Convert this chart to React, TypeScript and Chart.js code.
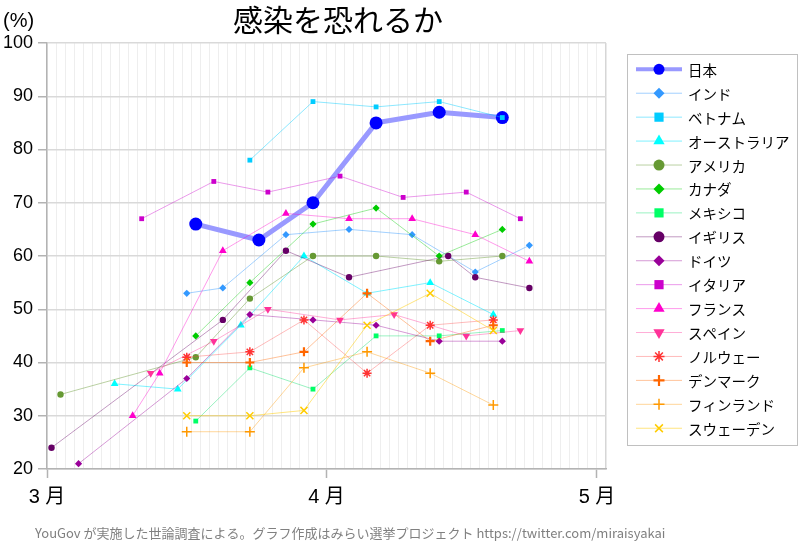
import React, { useEffect, useRef } from 'react';
import { Chart, registerables } from 'chart.js';
import { drawPoint } from 'chart.js/helpers';

Chart.register(...registerables);

const TITLE = '感染を恐れるか';
const Y_UNIT = '(%)';
const FOOTER = 'YouGov が実施した世論調査による。グラフ作成はみらい選挙プロジェクト https://twitter.com/miraisyakai';

// x values: days since March 1 (survey mid-points)
const X_MIN = 0;
const X_MAX = 62;
const monthTickDays = [0, 31, 61];
const monthTickLabels = ['3 月', '4 月', '5 月'];
const yTicks = [20, 30, 40, 50, 60, 70, 80, 90, 100];

const countryNames = [
  '日本', 'インド', 'ベトナム', 'オーストラリア', 'アメリカ', 'カナダ', 'メキシコ', 'イギリス',
  'ドイツ', 'イタリア', 'フランス', 'スペイン', 'ノルウェー', 'デンマーク', 'フィンランド', 'スウェーデン',
];

const japanDays = [16.5, 23.5, 29.5, 36.5, 43.5, 50.5];
const japanVals = [66, 63, 70, 85, 87, 86];
const indiaDays = [15.5, 19.5, 26.5, 33.5, 40.5, 47.5, 53.5];
const indiaVals = [53, 54, 64, 65, 64, 57, 62];
const vietnamDays = [22.5, 29.5, 36.5, 43.5, 50.5];
const vietnamVals = [78, 89, 88, 89, 86];
const australiaDays = [7.5, 14.5, 21.5, 28.5, 35.5, 42.5, 49.5];
const australiaVals = [36, 35, 47, 60, 53, 55, 49];
const americaDays = [1.5, 16.5, 22.5, 29.5, 36.5, 43.5, 50.5];
const americaVals = [34, 41, 52, 60, 60, 59, 60];
const canadaDays = [16.5, 22.5, 29.5, 36.5, 43.5, 50.5];
const canadaVals = [45, 55, 66, 69, 60, 65];
const mexicoDays = [16.5, 22.5, 29.5, 36.5, 43.5, 50.5];
const mexicoVals = [29, 39, 35, 45, 45, 46];
const ukDays = [0.5, 19.5, 26.5, 33.5, 44.5, 47.5, 53.5];
const ukVals = [24, 48, 61, 56, 60, 56, 54];
const germanyDays = [3.5, 15.5, 22.5, 29.5, 36.5, 43.5, 50.5];
const germanyVals = [21, 37, 49, 48, 47, 44, 44];
const italyDays = [10.5, 18.5, 24.5, 32.5, 39.5, 46.5, 52.5];
const italyVals = [67, 74, 72, 75, 71, 72, 67];
const franceDays = [9.5, 12.5, 19.5, 26.5, 33.5, 40.5, 47.5, 53.5];
const franceVals = [30, 38, 61, 68, 67, 67, 64, 59];
const spainDays = [11.5, 18.5, 24.5, 32.5, 38.5, 46.5, 52.5];
const spainVals = [38, 44, 50, 48, 49, 45, 46];
const norwayDays = [15.5, 22.5, 28.5, 35.5, 42.5, 49.5];
const norwayVals = [41, 42, 48, 38, 47, 48];
const denmarkDays = [15.5, 22.5, 28.5, 35.5, 42.5, 49.5];
const denmarkVals = [40, 40, 42, 53, 44, 47];
const finlandDays = [15.5, 22.5, 28.5, 35.5, 42.5, 49.5];
const finlandVals = [27, 27, 39, 42, 38, 32];
const swedenDays = [15.5, 22.5, 28.5, 35.5, 42.5, 49.5];
const swedenVals = [30, 30, 31, 47, 53, 46];

const seriesDays = [japanDays, indiaDays, vietnamDays, australiaDays, americaDays, canadaDays, mexicoDays, ukDays,
  germanyDays, italyDays, franceDays, spainDays, norwayDays, denmarkDays, finlandDays, swedenDays];
const seriesVals = [japanVals, indiaVals, vietnamVals, australiaVals, americaVals, canadaVals, mexicoVals, ukVals,
  germanyVals, italyVals, franceVals, spainVals, norwayVals, denmarkVals, finlandVals, swedenVals];

type Style = { marker: string; line: string; lw: number; ps: string; rot: number; r: number; bw: number };
const styles: Style[] = [
  { marker: '#0000ff', line: '#9999ff', lw: 5, ps: 'circle', rot: 0, r: 6.5, bw: 0 },
  { marker: '#3399ff', line: 'rgba(51,153,255,0.45)', lw: 1, ps: 'rectRot', rot: 0, r: 3.6, bw: 0 },
  { marker: '#00ccff', line: 'rgba(0,204,255,0.45)', lw: 1, ps: 'rect', rot: 0, r: 3.4, bw: 0 },
  { marker: '#00ffff', line: 'rgba(0,230,255,0.5)', lw: 1, ps: 'triangle', rot: 0, r: 4.5, bw: 0 },
  { marker: '#669933', line: 'rgba(102,153,51,0.45)', lw: 1, ps: 'circle', rot: 0, r: 3.2, bw: 0 },
  { marker: '#00cc00', line: 'rgba(0,204,0,0.4)', lw: 1, ps: 'rectRot', rot: 0, r: 3.6, bw: 0 },
  { marker: '#00ff66', line: 'rgba(0,220,100,0.4)', lw: 1, ps: 'rect', rot: 0, r: 3.4, bw: 0 },
  { marker: '#660066', line: 'rgba(102,0,102,0.4)', lw: 1, ps: 'circle', rot: 0, r: 3.2, bw: 0 },
  { marker: '#990099', line: 'rgba(153,0,153,0.4)', lw: 1, ps: 'rectRot', rot: 0, r: 3.6, bw: 0 },
  { marker: '#cc00cc', line: 'rgba(204,0,204,0.4)', lw: 1, ps: 'rect', rot: 0, r: 3.4, bw: 0 },
  { marker: '#ff00cc', line: 'rgba(255,0,204,0.4)', lw: 1, ps: 'triangle', rot: 0, r: 4.5, bw: 0 },
  { marker: '#ff3399', line: 'rgba(255,51,153,0.4)', lw: 1, ps: 'triangle', rot: 180, r: 4.5, bw: 0 },
  { marker: '#ff3333', line: 'rgba(255,60,60,0.35)', lw: 1, ps: 'star', rot: 0, r: 4.5, bw: 1.5 },
  { marker: '#ff6600', line: 'rgba(255,102,0,0.4)', lw: 1, ps: 'cross', rot: 0, r: 4.5, bw: 2.2 },
  { marker: '#ff9900', line: 'rgba(255,153,0,0.4)', lw: 1, ps: 'cross', rot: 0, r: 5, bw: 1.5 },
  { marker: '#ffcc00', line: 'rgba(255,204,0,0.5)', lw: 1, ps: 'crossRot', rot: 0, r: 5, bw: 1.5 },
];

const LATIN = "'Liberation Sans', 'Noto Sans CJK JP', sans-serif";
const CJK = "'Noto Sans CJK JP', 'Liberation Sans', sans-serif";

const decorPlugin = {
  id: 'decor',
  afterDraw(chart: any) {
    const ctx = chart.ctx as CanvasRenderingContext2D;
    const area = chart.chartArea;
    ctx.save();
    // title
    ctx.fillStyle = '#000';
    ctx.font = `30px ${CJK}`;
    ctx.textAlign = 'center';
    ctx.textBaseline = 'middle';
    ctx.fillText(TITLE, 338, 20);
    // unit
    ctx.font = `20px ${LATIN}`;
    ctx.textAlign = 'left';
    ctx.fillText(Y_UNIT, 3, 21);
    // footer
    ctx.font = `13px ${CJK}`;
    ctx.fillStyle = '#808080';
    ctx.fillText(FOOTER, 35, 533);
    // legend
    const lx = area.right + 21;
    const ly = 54;
    const lw = 170;
    const lh = 391;
    ctx.fillStyle = '#fff';
    ctx.fillRect(lx, ly, lw, lh);
    ctx.strokeStyle = '#c0c0c0';
    ctx.lineWidth = 1;
    ctx.strokeRect(lx + 0.5, ly + 0.5, lw, lh);
    const step = 23.93;
    styles.forEach((s, i) => {
      const y = ly + 15.3 + i * step;
      ctx.strokeStyle = s.line;
      ctx.lineWidth = s.lw === 5 ? 4 : 1;
      ctx.beginPath();
      ctx.moveTo(lx + 9, y);
      ctx.lineTo(lx + 55, y);
      ctx.stroke();
      ctx.fillStyle = s.marker;
      ctx.strokeStyle = s.marker;
      ctx.lineWidth = s.bw || 0;
      const r = s.ps === 'circle' ? 5.5 : s.ps === 'rect' ? 6.5 : s.ps === 'triangle' ? 6.5 : 5.5;
      drawPoint(ctx, { pointStyle: s.ps as any, rotation: s.rot, radius: r, borderWidth: s.bw }, lx + 32, y);
      ctx.fillStyle = '#000';
      ctx.font = `14.5px ${CJK}`;
      ctx.textAlign = 'left';
      ctx.textBaseline = 'middle';
      ctx.fillText(countryNames[i], lx + 61, y + 1);
    });
    ctx.restore();
  },
};

export default function App() {
  const ref = useRef<HTMLCanvasElement | null>(null);
  useEffect(() => {
    if (!ref.current) return;
    const n = styles.length;
    const datasets = styles.map((s, i) => ({
      label: countryNames[i],
      data: seriesDays[i].map((d, j) => ({ x: d, y: seriesVals[i][j] })),
      borderColor: s.line,
      borderWidth: s.lw,
      backgroundColor: s.marker,
      pointStyle: s.ps,
      pointRotation: s.rot,
      pointRadius: s.r,
      pointBackgroundColor: s.marker,
      pointBorderColor: s.marker,
      pointBorderWidth: s.bw,
      tension: 0,
      fill: false,
      order: n - i,
    }));
    const chart = new Chart(ref.current, {
      type: 'line',
      data: { datasets },
      plugins: [decorPlugin],
      options: {
        responsive: false,
        animation: false,
        layout: { padding: { top: 43, right: 194, left: 0, bottom: 0 } },
        plugins: { legend: { display: false }, title: { display: false }, tooltip: { enabled: false } },
        scales: {
          x: {
            type: 'linear',
            min: X_MIN,
            max: X_MAX,
            afterFit: (scale: any) => { scale.height = 74; },
            ticks: {
              stepSize: 1,
              autoSkip: false,
              maxTicksLimit: 200,
              maxRotation: 0,
              padding: 7,
              color: '#000',
              font: { family: LATIN, size: 20 },
              callback: (v: any) => {
                const k = monthTickDays.indexOf(Number(v));
                return k >= 0 ? monthTickLabels[k] : '';
              },
            },
            grid: {
              color: (c: any) => (c.tick && c.tick.value === X_MAX ? '#d6d6d6' : '#eeeeee'),
              lineWidth: (c: any) => (c.tick && c.tick.value === X_MAX ? 1.5 : 1),
              tickLength: 9,
              tickColor: (c: any) => (c.tick && monthTickDays.includes(c.tick.value) ? '#b3b3b3' : 'rgba(0,0,0,0)'),
              tickWidth: 1.5,
            },
            border: { color: '#b3b3b3', width: 1.5 },
          },
          y: {
            type: 'linear',
            min: 20,
            max: 100,
            afterFit: (scale: any) => { scale.width = 47; },
            afterBuildTicks: (scale: any) => { scale.ticks = yTicks.map((v) => ({ value: v })); },
            ticks: {
              stepSize: 10,
              padding: 5,
              color: '#000',
              font: { family: LATIN, size: 18 },
            },
            grid: { color: '#d9d9d9', lineWidth: 1.5, tickLength: 9, tickColor: '#b3b3b3' },
            border: { color: '#b3b3b3', width: 1.5 },
          },
        },
      } as any,
    });
    return () => chart.destroy();
  }, []);
  return (
    <div style={{ position: 'fixed', left: 0, top: 0, width: 800, height: 543, background: '#fff' }}>
      <canvas ref={ref} width={800} height={543} style={{ display: 'block' }} />
    </div>
  );
}
